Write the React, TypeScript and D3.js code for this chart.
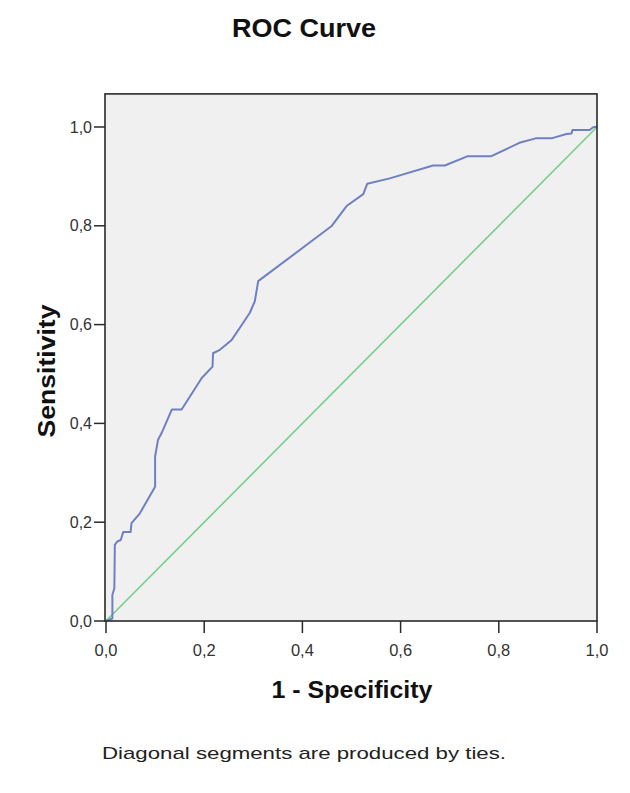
import React from "react";
import * as d3 from "d3";

// ROC points (1 - specificity, sensitivity)
const fpr = [0, 0.013, 0.013, 0.017, 0.018, 0.023, 0.03, 0.035, 0.05, 0.052, 0.069, 0.1, 0.1, 0.106, 0.113, 0.134, 0.154, 0.195, 0.217, 0.218, 0.232, 0.256, 0.273, 0.293, 0.303, 0.31, 0.459, 0.49, 0.524, 0.532, 0.578, 0.666, 0.69, 0.737, 0.785, 0.842, 0.875, 0.907, 0.938, 0.948, 0.95, 0.985, 0.993, 1];
const tpr = [0, 0.005, 0.053, 0.066, 0.154, 0.161, 0.164, 0.18, 0.18, 0.198, 0.218, 0.272, 0.333, 0.367, 0.38, 0.428, 0.428, 0.492, 0.515, 0.542, 0.549, 0.569, 0.594, 0.624, 0.647, 0.688, 0.799, 0.84, 0.864, 0.885, 0.896, 0.922, 0.922, 0.941, 0.941, 0.968, 0.977, 0.977, 0.986, 0.987, 0.994, 0.994, 1, 1];
const refLine = [0, 1];
const ticks = [0, 0.2, 0.4, 0.6, 0.8, 1];

const width = 630, height = 793;
const font = "'Liberation Sans', Arial, sans-serif";

export default function App() {
    const x = d3.scaleLinear().domain([0, 1]).range([106, 597]);
    const y = d3.scaleLinear().domain([0, 1]).range([621, 127]);
    const yTop = 1.067; // box extends a bit above 1,0

    const fmt = d3.formatLocale({ decimal: ",", thousands: ".", grouping: [3], currency: ["", ""] }).format(".1f");

    const points: [number, number][] = fpr.map((v, i) => [v, tpr[i]]);
    const line = d3.line<[number, number]>()
        .x(d => x(d[0]))
        .y(d => y(d[1]));

    const left = x(0) - 1, right = x(1), top = y(yTop), bottom = y(0);

    return (
        <svg width={width} height={height} style={{ position: "absolute", left: 0, top: 0, background: "#fff" }}>
            <text x={304} y={37} textAnchor="middle" fontFamily={font} fontWeight="bold" fontSize={26} textLength={144} lengthAdjust="spacingAndGlyphs" fill="#111">ROC Curve</text>

            <rect x={left} y={top} width={right - left} height={bottom - top} fill="#f0f0f0" />

            {/* reference diagonal */}
            <path d={line(refLine.map(v => [v, v] as [number, number])) || ""} fill="none" stroke="#74cf8a" strokeWidth={1.6} />
            {/* ROC curve */}
            <path d={line(points) || ""} fill="none" stroke="#6f80c2" strokeWidth={2} strokeLinejoin="round" />

            <rect x={left} y={top} width={right - left} height={bottom - top} fill="none" stroke="#2a2a2a" strokeWidth={1.6} />

            {ticks.map(t => (
                <g key={"y" + t}>
                    <line x1={left - 11} x2={left} y1={y(t)} y2={y(t)} stroke="#2a2a2a" strokeWidth={1.5} />
                    <text x={left - 13} y={y(t) + 5.5} textAnchor="end" fontFamily={font} fontSize={16} fill="#333">{fmt(t)}</text>
                </g>
            ))}
            {ticks.map(t => (
                <g key={"x" + t}>
                    <line x1={x(t)} x2={x(t)} y1={bottom} y2={bottom + 12} stroke="#2a2a2a" strokeWidth={1.5} />
                    <text x={x(t)} y={656} textAnchor="middle" fontFamily={font} fontSize={16.5} fill="#333">{fmt(t)}</text>
                </g>
            ))}

            <text x={352} y={698} textAnchor="middle" fontFamily={font} fontWeight="bold" fontSize={24} textLength={161} lengthAdjust="spacingAndGlyphs" fill="#111">1 - Specificity</text>
            <text transform={`translate(55,371) rotate(-90)`} textAnchor="middle" fontFamily={font} fontWeight="bold" fontSize={24} textLength={133} lengthAdjust="spacingAndGlyphs" fill="#111">Sensitivity</text>

            <text x={304} y={759} textAnchor="middle" fontFamily={font} fontSize={17} textLength={404} lengthAdjust="spacingAndGlyphs" fill="#222">Diagonal segments are produced by ties.</text>
        </svg>
    );
}
